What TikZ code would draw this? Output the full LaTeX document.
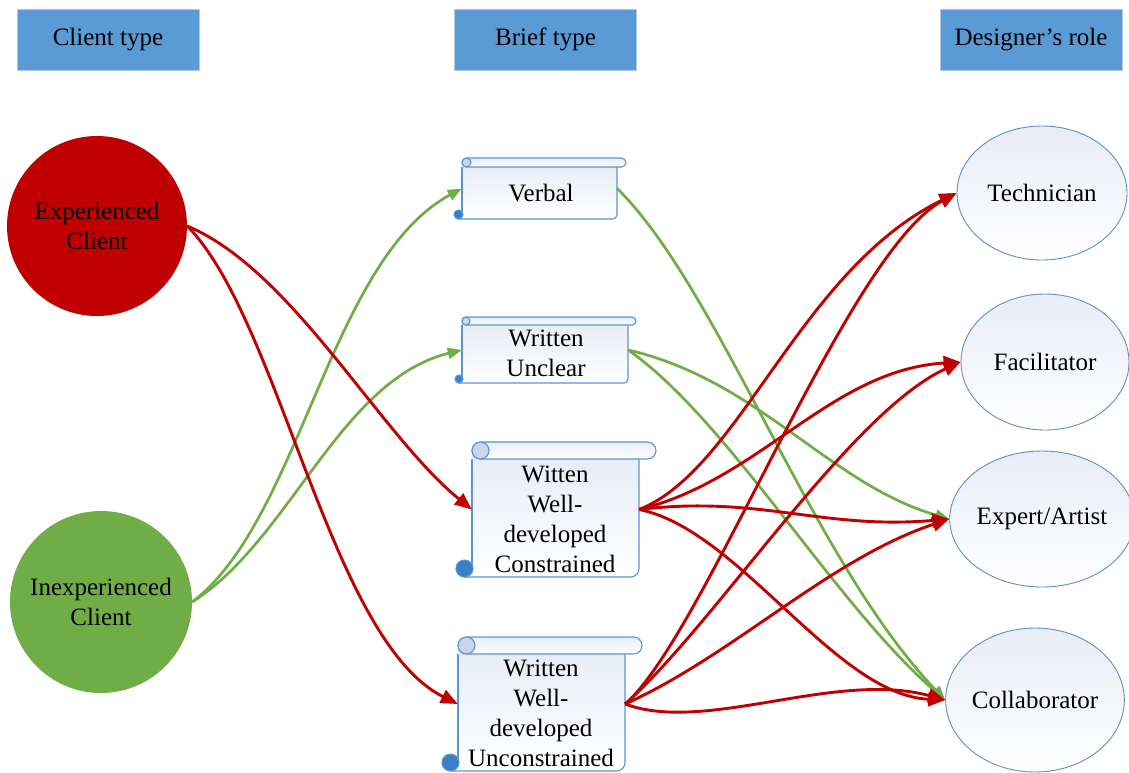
\documentclass[tikz,border=0pt]{standalone}
\usepackage{fontspec}
\setmainfont{Liberation Serif}
\usetikzlibrary{shapes.geometric,arrows.meta}
\definecolor{hdrblue}{HTML}{5B9BD5}
\definecolor{hdrborder}{HTML}{B4C7DC}
\definecolor{rolebd}{HTML}{5B8FC9}
\definecolor{rolefill}{HTML}{E8ECF6}
\definecolor{scrollbd}{HTML}{5B95CF}
\definecolor{scrolltop}{HTML}{E6EBF6}
\definecolor{curldark}{HTML}{3A7FC7}
\definecolor{curllight}{HTML}{C8D5EA}
\definecolor{expred}{HTML}{C00000}
\definecolor{inexpgreen}{HTML}{70AD47}
\tikzset{
  every node/.style={font=\fontsize{25}{30}\selectfont},
  hdr/.style={draw=hdrborder, fill=hdrblue, line width=1pt, minimum width=182pt, minimum height=61pt, inner sep=0pt},
  client/.style={circle, inner sep=0pt, align=center},
  role/.style={ellipse, draw=rolebd, line width=0.9pt, top color=rolefill, bottom color=white, inner sep=0pt, align=center},
  btext/.style={align=center, inner sep=0pt},
  scrollline/.style={draw=scrollbd, line width=1.1pt},
  scrollshade/.style={top color=scrolltop, bottom color=white},
  redarr/.style={draw=expred, line width=2.9pt, -{Triangle[length=17pt,width=14pt]}},
  grnarr/.style={draw=inexpgreen, line width=2.7pt, -{Triangle[length=14pt,width=11pt]}},
}
\newcommand\briefscroll[6]{%
  \pgfmathsetmacro\sL{#2}\pgfmathsetmacro\sT{#3}\pgfmathsetmacro\sR{#4}%
  \pgfmathsetmacro\sB{#5}\pgfmathsetmacro\sH{#6}\pgfmathsetmacro\sHh{#6/2}%
  \path[scrollshade] (\sL-\sHh,\sB) -- (\sR-\sHh,\sB) -- (\sR,\sB-\sHh) -- (\sR,\sT+\sHh) -- (\sL,\sT+\sHh) -- (\sL,\sB-\sHh) -- cycle;
  \draw[scrollline, rounded corners=\sHh pt] (\sL-\sHh,\sB) -- (\sR,\sB) -- (\sR,\sT+\sH);
  \draw[scrollline] (\sL,\sT+\sH) -- (\sL,\sB-\sHh);
  \draw[scrollline, scrollshade, rounded corners=\sHh pt] (\sL,\sT) rectangle (\sR+\sH,\sT+\sH);
  \draw[scrollline, fill=curllight] (\sL+\sHh,\sT+\sHh) circle[radius=\sHh pt];
  \draw[scrollline, fill=curldark] (\sL-\sHh+1,\sB-\sHh) circle[radius=\sHh pt];
  \node[inner sep=0pt, minimum width={(\sR-\sL)*1pt}, minimum height={(\sB-\sT)*1pt}] (#1) at ({(\sL+\sR)/2},{(\sT+\sB)/2}) {};
}
\begin{document}
\begin{tikzpicture}[x=1pt,y=-1pt]
\useasboundingbox (0,0) rectangle (1129,772);

% headers
\node[hdr] (h1) at (108,39.5) {Client type};
\node[hdr] (h2) at (545.5,39.5) {Brief type};
\node[hdr] (h3) at (1031,39.5) {Designer’s role};

% clients
\node[client, fill=expred, minimum size=180pt] (exp) at (97,226) {Experienced\\Client};
\node[client, fill=inexpgreen, minimum size=182pt] (inexp) at (101,602) {Inexperienced\\Client};

% roles
\node[role, minimum width=170pt, minimum height=134pt] (tech) at (1042,193) {Technician};
\node[role, minimum width=168pt, minimum height=136pt] (fac) at (1045,362) {Facilitator};
\node[role, minimum width=170pt, minimum height=136pt] (expart) at (1042,519) {Expert/Artist};
\node[role, minimum width=162pt, minimum height=144pt] (col) at (1035,700) {Collaborator};

% briefs
\briefscroll{verbal}{462}{158}{617}{219}{9}
\node[btext] (tverbal) at (541,193) {Verbal};
\briefscroll{wu}{462}{317}{628}{383}{8}
\node[btext] (twu) at (546,353) {Written\\Unclear};
\briefscroll{wwc}{472}{442}{639}{577}{17}
\node[btext] (twwc) at (555,519) {Witten\\Well-\\developed\\Constrained};
\briefscroll{wwu}{458}{637}{625}{771}{17}
\node[btext] (twwu) at (541,713) {Written\\Well-\\developed\\Unconstrained};

% green connectors
\draw[grnarr] (inexp.east) .. controls +(108,-82) and +(-132,71.5) .. (verbal.west);
\draw[grnarr] (inexp.east) .. controls +(98,-62) and +(-122,30) .. (wu.west);
\draw[grnarr] (verbal.east) .. controls +(103,101.5) and +(-134,-140) .. (col.west);
\draw[grnarr] (wu.east) .. controls +(130,30) and +(-120,-35) .. (expart.west);
\draw[grnarr] (wu.east) .. controls +(100,70) and +(-110,-95) .. (col.west);

% red connectors
\draw[redarr] (exp.east) .. controls +(105,44) and +(-92,-75) .. (wwc.west);
\draw[redarr] (exp.east) .. controls +(93,94) and +(-128,-64) .. (wwu.west);

\draw[redarr] (wwc.east) .. controls +(101,-40) and +(-157,77) .. (tech.west);
\draw[redarr] (wwc.east) .. controls +(121,-29.5) and +(-130,8) .. (fac.west);
\draw[redarr] (wwc.east) .. controls +(121,-14.5) and +(-127,11) .. (expart.west);
\draw[redarr] (wwc.east) .. controls +(100,20) and +(-110,-5) .. (col.west);

\draw[redarr] (wwu.east) .. controls +(80,-70) and +(-110,60) .. (tech.west);
\draw[redarr] (wwu.east) .. controls +(90,-80) and +(-110,50) .. (fac.west);
\draw[redarr] (wwu.east) .. controls +(110,-50) and +(-120,40) .. (expart.west);
\draw[redarr] (wwu.east) .. controls +(80,30) and +(-110,-30) .. (col.west);
\end{tikzpicture}
\end{document}
